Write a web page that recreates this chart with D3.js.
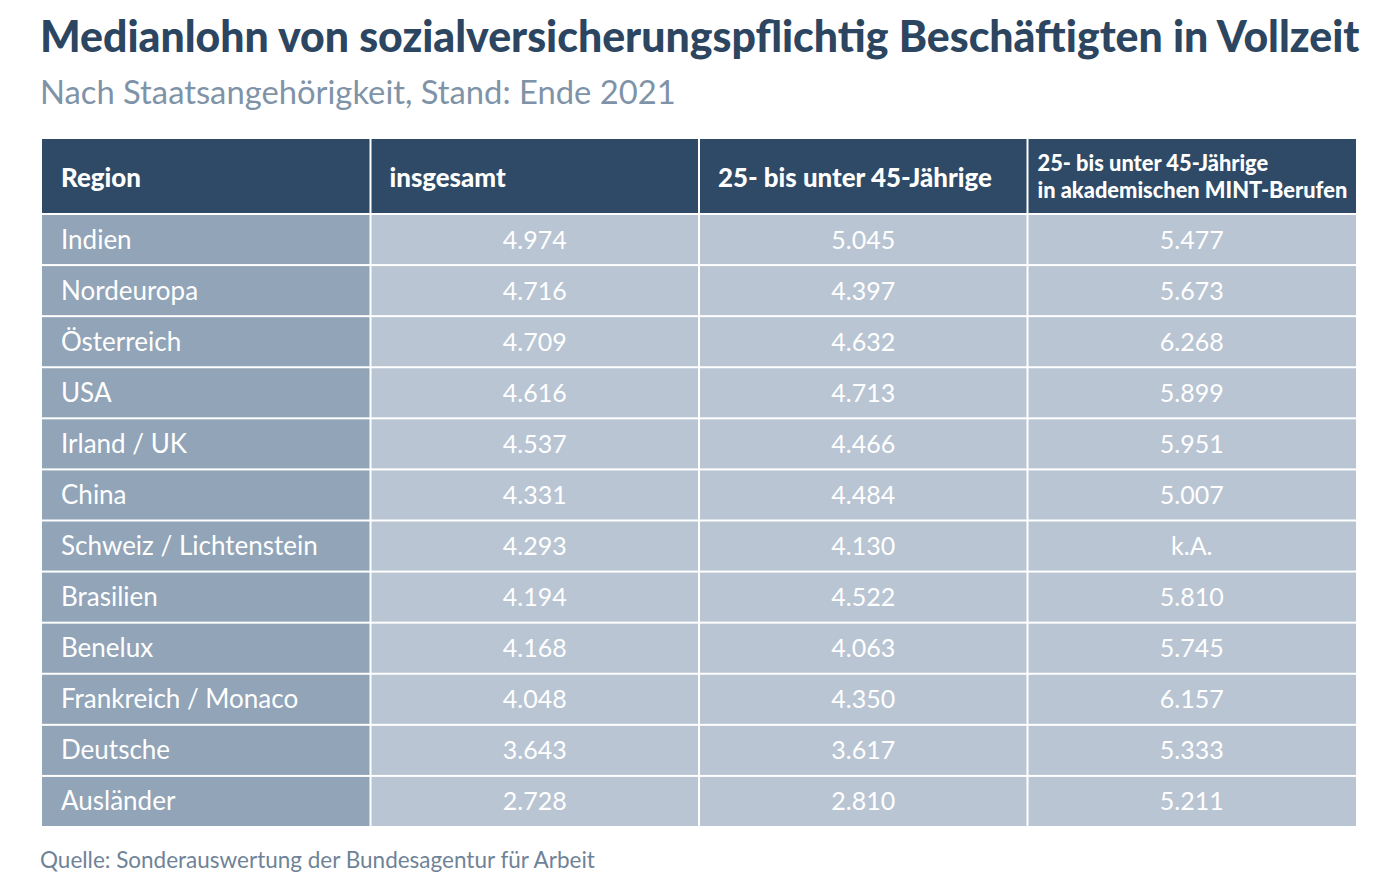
<!DOCTYPE html>
<html><head><meta charset="utf-8">
<script src="https://cdn.jsdelivr.net/npm/d3@7"></script>
<style>
body{margin:0;background:#fff;}
svg{display:block;font-family:Lato,"Noto Sans",sans-serif;}
</style></head>
<body><svg id="c" width="1400" height="889"></svg>
<script>
const title = "Medianlohn von sozialversicherungspflichtig Beschäftigten in Vollzeit";
const subtitle = "Nach Staatsangehörigkeit, Stand: Ende 2021";
const source = "Quelle: Sonderauswertung der Bundesagentur für Arbeit";
const columns = ["Region", "insgesamt", "25- bis unter 45-Jährige", "25- bis unter 45-Jährige\nin akademischen MINT-Berufen"];
const regions = ["Indien","Nordeuropa","Österreich","USA","Irland / UK","China","Schweiz / Lichtenstein","Brasilien","Benelux","Frankreich / Monaco","Deutsche","Ausländer"];
const insgesamt = ["4.974","4.716","4.709","4.616","4.537","4.331","4.293","4.194","4.168","4.048","3.643","2.728"];
const age25to45 = ["5.045","4.397","4.632","4.713","4.466","4.484","4.130","4.522","4.063","4.350","3.617","2.810"];
const mint = ["5.477","5.673","6.268","5.899","5.951","5.007","k.A.","5.810","5.745","6.157","5.333","5.211"];

const svg = d3.select("#c");
const L = 42, R = 1356, headTop = 139, headBot = 214, bottom = 827;

function fitText(sel, target){
  const w = sel.node().getComputedTextLength();
  const fs = parseFloat(sel.attr("font-size"));
  sel.attr("font-size", fs * target / w);
  return fs * target / w;
}
function measure(txt, size, weight){
  const tmp = svg.append("text").attr("font-size", size).attr("font-weight", weight).text(txt);
  const w = tmp.node().getComputedTextLength();
  tmp.remove();
  return size * 1 / w;
}

const t = svg.append("text").attr("x", 40).attr("y", 52).attr("font-size", 40).attr("font-weight", 900)
  .attr("fill", "#2c4560").text(title);
fitText(t, 1320);
const st = svg.append("text").attr("x", 40).attr("y", 104).attr("font-size", 30)
  .attr("fill", "#7f93a8").text(subtitle);
fitText(st, 636);
const so = svg.append("text").attr("x", 40).attr("y", 868).attr("font-size", 22)
  .attr("fill", "#6f8397").text(source);
fitText(so, 555);

const x = d3.scaleBand().domain(columns).range([L, R]).paddingInner(0);
const y = d3.scaleBand().domain(regions).range([headBot, bottom]).paddingInner(0);
const gap = 1;

const headSize1 = measure("25- bis unter 45-Jährige", 23, 900) * 274;
const headSize2 = measure("in akademischen MINT-Berufen", 20, 900) * 310;

// header
const hg = svg.append("g");
columns.forEach((c, i) => {
  hg.append("rect").attr("x", x(c) + (i ? gap : 0)).attr("y", headTop)
    .attr("width", x.bandwidth() - (i ? gap : 0) - (i < 3 ? gap : 0)).attr("height", headBot - headTop - gap)
    .attr("fill", "#2e4a66");
  const lines = c.split("\n");
  const tx = hg.append("text").attr("fill", "#fff").attr("font-weight", 900)
    .attr("font-size", lines.length > 1 ? headSize2 : headSize1);
  const cy = (headTop + headBot) / 2;
  const lh = 27;
  lines.forEach((ln, j) => {
    tx.append("tspan").attr("x", x(c) + (lines.length > 1 ? 10 : 19))
      .attr("y", cy + (j - (lines.length - 1) / 2) * lh + (lines.length > 1 ? 8 : 10)).text(ln);
  });
});

// body
const rows = regions.map((r, i) => [r, insgesamt[i], age25to45[i], mint[i]]);
const bg = svg.append("g");
rows.forEach((row, ri) => {
  const r = regions[ri];
  row.forEach((v, ci) => {
    const c = columns[ci];
    bg.append("rect").attr("x", x(c) + (ci ? gap : 0)).attr("y", y(r) + gap)
      .attr("width", x.bandwidth() - (ci ? gap : 0) - (ci < 3 ? gap : 0)).attr("height", y.bandwidth() - 2 * gap)
      .attr("fill", ci === 0 ? "#91a4b8" : "#b9c5d3");
    bg.append("text").attr("fill", "#fff").attr("font-size", ci === 0 ? 26 : 25)
      .attr("x", ci === 0 ? x(c) + 19 : x(c) + x.bandwidth() / 2)
      .attr("text-anchor", ci === 0 ? "start" : "middle")
      .attr("y", y(r) + y.bandwidth() / 2 + 9).text(v);
  });
});
</script></body></html>
